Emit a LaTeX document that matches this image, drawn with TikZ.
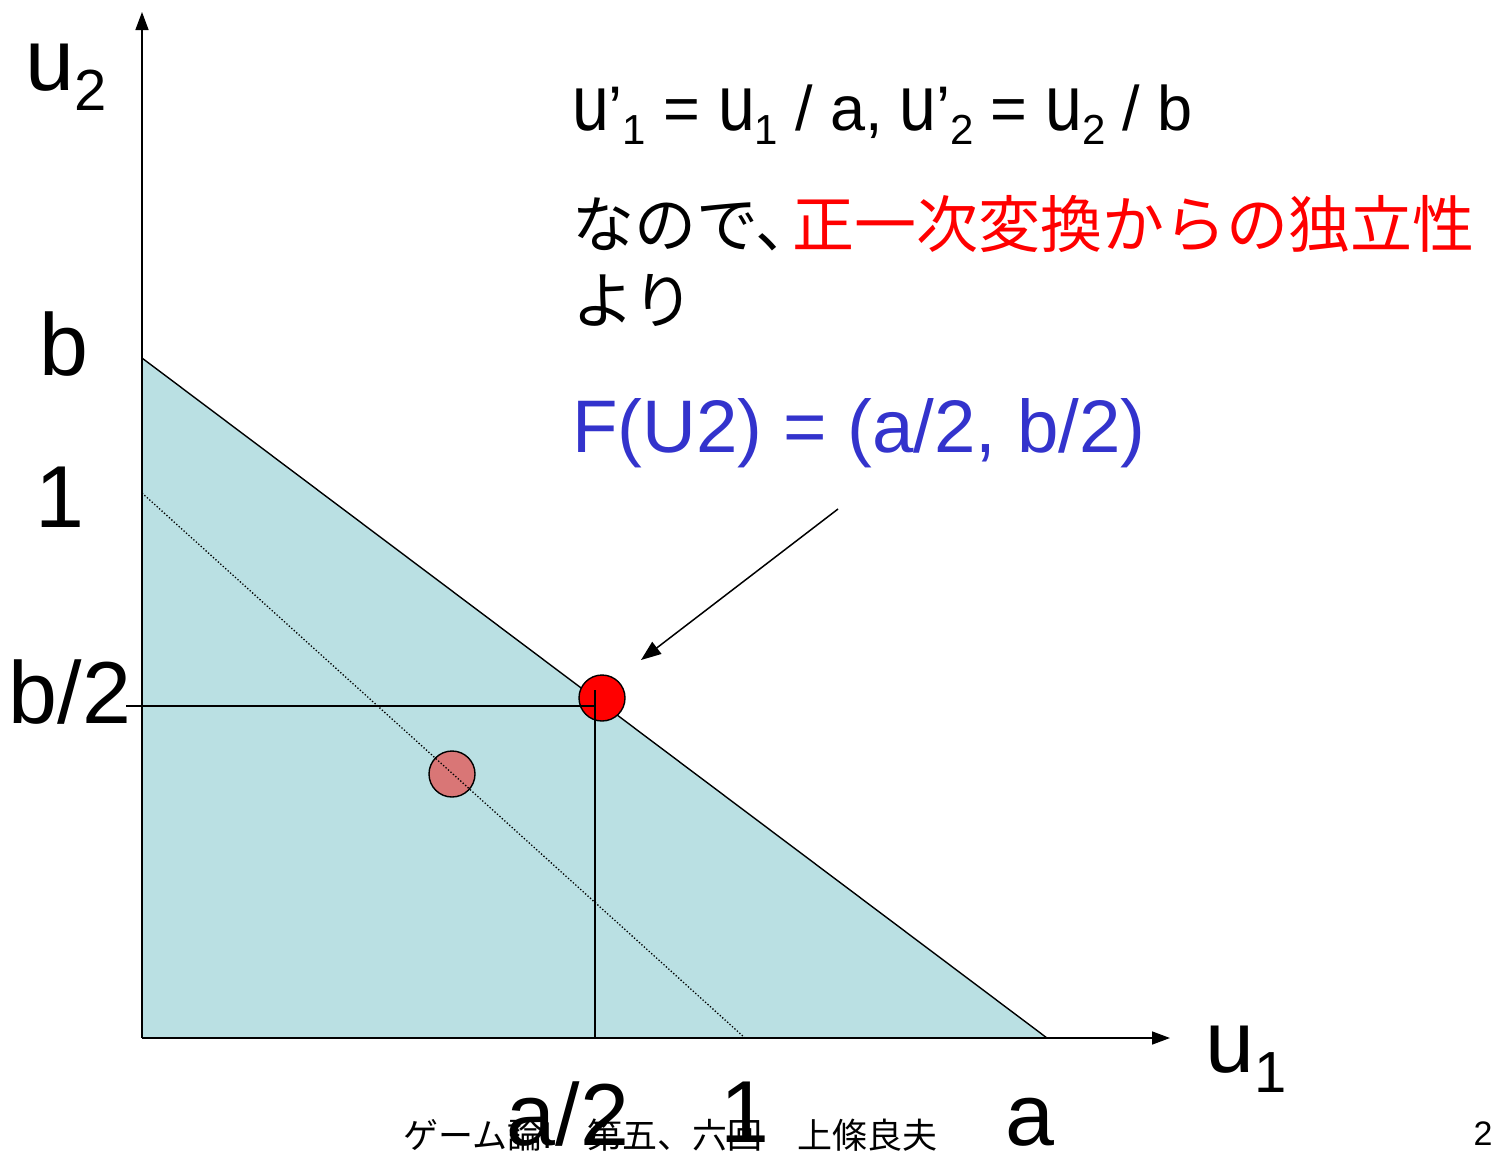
\documentclass[tikz,border=0pt]{standalone}
\usepackage{fontspec}
\usepackage{graphicx}
\setmainfont{Liberation Sans}
\newfontfamily\jp{Noto Sans CJK JP}
\usetikzlibrary{arrows.meta}
\definecolor{regionfill}{HTML}{BAE0E3}
\definecolor{pinkpt}{HTML}{D97676}
\definecolor{fblue}{HTML}{3333CC}
\newcommand\mysub[1]{\raisebox{-14pt}{\fontsize{42}{42}\selectfont #1}}
\newcommand\myu{\scalebox{1.05}[1.25]{u}}
\newcommand\axsub[1]{\raisebox{-20pt}{\fontsize{58}{58}\selectfont #1}}
\begin{document}
\begin{tikzpicture}[x=1pt,y=-1pt,
  axisline/.style={line width=1.5pt,-{Triangle[length=18pt,width=13pt]}},
  edgeline/.style={line width=1.4pt},
  dotline/.style={line width=1.3pt,dotted},
  lbl/.style={inner sep=0pt,font=\fontsize{88}{88}\selectfont},
  ptnode/.style={circle,draw,line width=1.4pt,minimum size=46pt,inner sep=0pt},
  callout/.style={line width=1.5pt,-{Triangle[length=20pt,width=15pt]}},
  txt/.style={inner sep=0pt}]
\useasboundingbox (0,0) rectangle (1496,1152);
% coordinates
\coordinate (O) at (142,1038);
\coordinate (ytop) at (142,12);
\coordinate (xend) at (1170,1038);
\coordinate (B) at (142,358);
\coordinate (A) at (1047,1038);
\coordinate (one) at (142,493);
\coordinate (onex) at (745,1038);
\coordinate (hl) at (126,706);
\coordinate (hr) at (595,706);
\coordinate (vt) at (595,690);
\coordinate (vb) at (595,1038);
\coordinate (as) at (838,509);
\coordinate (ae) at (641,660);
% region
\fill[regionfill] (B) -- (A) -- (O) -- cycle;
\draw[edgeline] (B) -- (A);
% axes
\draw[axisline] (O) -- (ytop);
\draw[axisline] (O) -- (xend);
% points and lines
\node[ptnode,fill=pinkpt] (P) at (452,774) {};
\draw[dotline] (one) -- (onex);
\node[ptnode,fill=red] (F) at (602,698) {};
\draw[edgeline] (hl) -- (hr);
\draw[edgeline] (vt) -- (vb);
\draw[callout] (as) -- (ae);
% axis labels
\node[lbl,anchor=base west] (u2) at (25,90) {u\axsub{2}};
\node[lbl,anchor=base west] (u1) at (1205,1072) {u\axsub{1}};
\node[lbl,anchor=base] (lb) at (64,375) {b};
\node[lbl,anchor=base] (l1) at (60,527) {1};
\node[lbl,anchor=base] (lb2) at (70,723) {b/2};
\node[lbl,anchor=base] (la2) at (568,1145) {a/2};
\node[lbl,anchor=base] (l1x) at (745,1142) {1};
\node[lbl,anchor=base] (la) at (1030,1145) {a};
% text
\node[txt,anchor=base west,font=\fontsize{63}{63}\selectfont] (eq) at (572,130)
  {\myu’\mysub{1} = \myu\mysub{1} / a,\hspace{16pt}\myu’\mysub{2} = \myu\mysub{2} / b};
\node[txt,anchor=west,font=\jp\fontsize{62}{62}\selectfont] (jp1) at (572,224)
  {なので、\kern-25pt\textcolor{red}{正一次変換からの独立性}};
\node[txt,anchor=west,font=\jp\fontsize{62}{62}\selectfont] (jp2) at (572,300) {より};
\node[txt,anchor=base west,text=fblue,font=\fontsize{74.5}{74.5}\selectfont] (fu) at (572,452)
  {F(U2) = (a/2, b/2)};
% footer
\node[txt,anchor=west,font=\jp\fontsize{35}{35}\selectfont] (foot) at (403,1135)
  {ゲーム論I　第五、六回　上條良夫};
\node[txt,anchor=center,font=\fontsize{34}{34}\selectfont] (pg) at (1483,1134) {2};
\end{tikzpicture}
\end{document}
